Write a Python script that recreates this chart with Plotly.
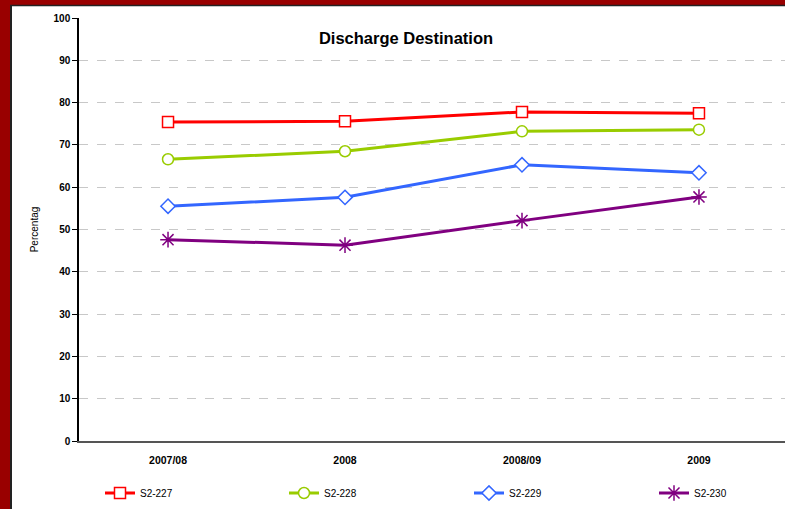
import plotly.graph_objects as go

categories = ["2007/08", "2008", "2008/09", "2009"]
s2_227 = [75.4, 75.6, 77.8, 77.5]
s2_228 = [66.6, 68.5, 73.2, 73.6]
s2_229 = [55.5, 57.6, 65.3, 63.4]
s2_230 = [47.6, 46.3, 52.1, 57.7]
series_names = ["S2-227", "S2-228", "S2-229", "S2-230"]
y_ticks = list(range(0, 101, 10))

W, H = 785, 509
L, R, T, B = 79, 0, 18, 68
PW, PH = W - L - R, H - T - B

styles = [
    dict(color="#ff0000", symbol="square", size=11),
    dict(color="#99cc00", symbol="circle", size=11),
    dict(color="#3366ff", symbol="diamond", size=11),
    dict(color="#800080", symbol="asterisk-open", size=13),
]
legend_ids = ["legend", "legend2", "legend3", "legend4"]
legend_x = [100, 284, 469, 654]


def px(xp):
    return (xp - L) / PW


def py(yp):
    return (H - B - yp) / PH


fig = go.Figure()
for name, vals, st, lid in zip(series_names, [s2_227, s2_228, s2_229, s2_230], styles, legend_ids):
    if st["symbol"].startswith("asterisk"):
        marker = dict(symbol=st["symbol"], size=st["size"], color=st["color"],
                      line=dict(color=st["color"], width=1.5))
    else:
        marker = dict(symbol=st["symbol"], size=st["size"], color="white",
                      line=dict(color=st["color"], width=1.5))
    fig.add_trace(go.Scatter(x=categories, y=vals, name=name, mode="lines+markers",
                             line=dict(color=st["color"], width=3), marker=marker,
                             legend=lid))

shapes = [
    dict(type="rect", xref="paper", yref="paper", x0=px(-5), x1=px(10), y0=py(520), y1=py(-5),
         fillcolor="#990000", line=dict(width=0), layer="below"),
    dict(type="rect", xref="paper", yref="paper", x0=px(-5), x1=px(800), y0=py(5), y1=py(-5),
         fillcolor="#990000", line=dict(width=0), layer="below"),
    dict(type="line", xref="paper", yref="paper", x0=px(11), x1=px(11), y0=py(520), y1=py(5.5),
         line=dict(color="#222222", width=2), layer="below"),
    dict(type="line", xref="paper", yref="paper", x0=px(10), x1=px(800), y0=py(5.5), y1=py(5.5),
         line=dict(color="#222222", width=1.5), layer="below"),
]

legend_common = dict(orientation="h", xanchor="left", yanchor="middle",
                     font=dict(size=10, color="black"), bgcolor="rgba(0,0,0,0)",
                     itemclick=False, itemdoubleclick=False)
legends = {}
for lid, lx in zip(legend_ids, legend_x):
    legends[lid] = dict(legend_common, x=px(lx), y=py(493))

fig.update_layout(
    width=W, height=H,
    margin=dict(l=L, r=R, t=T, b=B, pad=0),
    paper_bgcolor="white", plot_bgcolor="white",
    font=dict(family="Liberation Sans, Arial, sans-serif", color="black", size=10),
    title=dict(text="<b>Discharge Destination</b>", x=406 / W, xanchor="center",
               y=1 - 38 / H, yanchor="middle", font=dict(size=16.5, color="black")),
    showlegend=True,
    shapes=shapes,
    xaxis=dict(type="category", range=[-0.503, 3.486], showgrid=False, zeroline=False,
               showline=True, linecolor="#555555", linewidth=2, ticks="",
               tickfont=dict(size=10.5, color="black"),
               tickvals=categories, ticktext=["<b>%s</b>" % c for c in categories],
               ticklabelstandoff=8),
    yaxis=dict(range=[0, 100], tickvals=y_ticks, ticktext=["<b>%d</b>" % v for v in y_ticks],
               showgrid=True, gridcolor="#c8c8c8", griddash="dash", gridwidth=1,
               zeroline=False, showline=True, linecolor="black", linewidth=1.5,
               ticks="outside", ticklen=5, tickcolor="black", tickwidth=1,
               tickfont=dict(size=10, color="black"),
               title=dict(text="Percentag", font=dict(size=10, color="black"), standoff=13)),
    **legends,
)

fig.write_html("out.html", config={"displayModeBar": False},
               post_script="document.body.style.margin='0px';")
